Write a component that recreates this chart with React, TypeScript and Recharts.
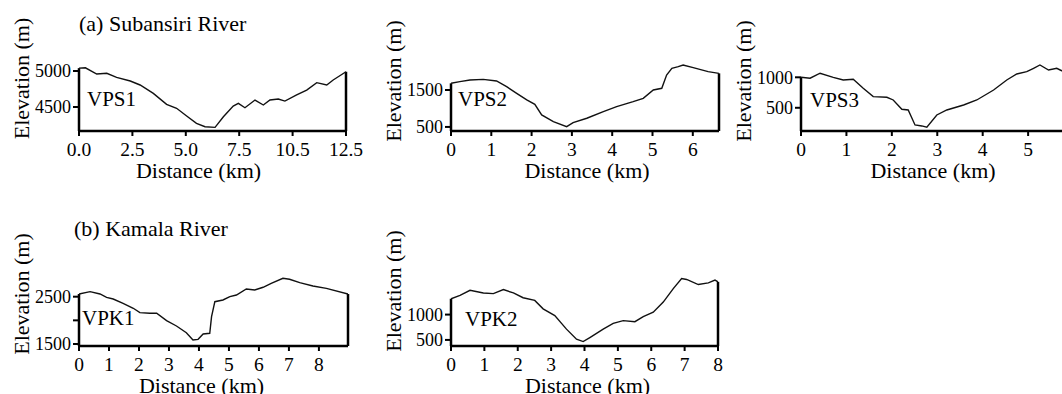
import React from "react";
import { LineChart, Line, XAxis, YAxis, ReferenceLine } from "recharts";

const FONT = "Liberation Serif, Tinos, Times New Roman, DejaVu Serif, serif";

// VPS1 - Subansiri
const vps1Distance = [0, 0.3, 0.83, 1.3, 1.76, 2.4, 2.86, 3.48, 4.1, 4.57, 5.04, 5.5, 5.9, 6.37, 6.76, 7.22, 7.46, 7.77, 8.24, 8.63, 8.94, 9.33, 9.64, 10.19, 10.66, 11.13, 11.6, 11.9, 12.5];
const vps1Elevation = [5040, 5045, 4958, 4968, 4912, 4861, 4806, 4690, 4537, 4482, 4375, 4273, 4226, 4218, 4365, 4514, 4551, 4490, 4597, 4528, 4597, 4611, 4583, 4667, 4736, 4838, 4806, 4875, 4990];

// VPS2
const vps2Distance = [0, 0.22, 0.47, 0.8, 1.13, 1.38, 1.63, 1.88, 2.08, 2.25, 2.54, 2.87, 3.03, 3.37, 3.78, 4.11, 4.52, 4.77, 5.02, 5.23, 5.35, 5.48, 5.64, 5.76, 6.01, 6.38, 6.65];
const vps2Elevation = [1680, 1725, 1770, 1788, 1743, 1590, 1410, 1230, 1113, 824, 643, 508, 616, 735, 914, 1049, 1184, 1275, 1500, 1545, 1905, 2085, 2130, 2176, 2103, 1995, 1950];

// VPS3
const vps3Distance = [0, 0.2, 0.42, 0.71, 0.93, 1.15, 1.37, 1.59, 1.89, 2.03, 2.22, 2.36, 2.51, 2.66, 2.77, 2.99, 3.21, 3.58, 3.87, 4.24, 4.53, 4.75, 4.97, 5.12, 5.26, 5.45, 5.63, 5.74, 5.9];
const vps3Elevation = [1000, 985, 1067, 1000, 956, 967, 820, 683, 672, 628, 475, 464, 218, 202, 180, 382, 464, 546, 628, 792, 956, 1054, 1092, 1148, 1202, 1120, 1148, 1108, 1080];

// VPK1 - Kamala
const vpk1Distance = [0, 0.37, 0.7, 0.92, 1.14, 1.47, 1.81, 2.03, 2.36, 2.59, 2.92, 3.25, 3.58, 3.8, 3.97, 4.14, 4.36, 4.42, 4.53, 4.8, 5.03, 5.25, 5.58, 5.86, 6.14, 6.41, 6.8, 7.02, 7.36, 7.8, 8.25, 8.97];
const vpk1Elevation = [2557, 2606, 2557, 2486, 2451, 2360, 2255, 2162, 2149, 2149, 1993, 1881, 1739, 1585, 1599, 1711, 1726, 2077, 2394, 2430, 2500, 2536, 2663, 2642, 2699, 2783, 2889, 2868, 2796, 2726, 2677, 2557];

// VPK2
const vpk2Distance = [0, 0.27, 0.57, 0.97, 1.27, 1.57, 1.87, 2.16, 2.51, 2.76, 3.11, 3.46, 3.76, 3.96, 4.16, 4.56, 4.86, 5.16, 5.51, 5.76, 6.06, 6.36, 6.66, 6.91, 7.06, 7.41, 7.71, 7.91, 8.0];
const vpk2Elevation = [1313, 1380, 1480, 1427, 1413, 1493, 1427, 1333, 1280, 1113, 980, 713, 513, 467, 547, 713, 827, 880, 860, 960, 1047, 1247, 1513, 1713, 1693, 1593, 1627, 1680, 1647];

// tick values and labels
const vps1XTicks = [0, 2.5, 5, 7.5, 10, 12.5];
const vps1XLabels = ["0.0", "2.5", "5.0", "7.5", "10.5", "12.5"];
const km7Ticks = [0, 1, 2, 3, 4, 5, 6];
const km9Ticks = [0, 1, 2, 3, 4, 5, 6, 7, 8];
const vps1YTicks = [4500, 5000];
const vps2YTicks = [500, 1500];
const vps3YTicks = [500, 1000];
const vpk1YTicks = [1500, 2000, 2500];
const vpk1YLabels = ["1500", "", "2500"];
const vpk2YTicks = [500, 1000];

const titles = ["(a) Subansiri River", "(b) Kamala River"];

type Panel = {
  name: string;
  dist: number[];
  elev: number[];
  xDomain: [number, number];
  yDomain: [number, number];
  xTicks: number[];
  xLabels?: string[];
  yTicks: number[];
  yLabels?: string[];
  left: number;
  top: number;
  width: number;
  height: number;
  mt: number;
  mr: number;
  xh: number;
  xlDx: number;
  xlDy: number;
  ylDy: number;
  nameX: number;
  nameY: number;
};

const panels: Panel[] = [
  { name: "VPS1", dist: vps1Distance, elev: vps1Elevation, xDomain: [0, 12.5], yDomain: [4167, 5153], xTicks: vps1XTicks, xLabels: vps1XLabels, yTicks: vps1YTicks, left: 0, top: 0, width: 370, height: 190, mt: 60, mr: 24, xh: 59, xlDx: -14, xlDy: 9.5, ylDy: -17, nameX: 87, nameY: 106 },
  { name: "VPS2", dist: vps2Distance, elev: vps2Elevation, xDomain: [0, 6.65], yDomain: [390, 2311], xTicks: km7Ticks, yTicks: vps2YTicks, left: 372, top: 0, width: 359, height: 190, mt: 60, mr: 12, xh: 59, xlDx: 2, xlDy: 9.5, ylDy: -14.5, nameX: 86, nameY: 106 },
  { name: "VPS3", dist: vps3Distance, elev: vps3Elevation, xDomain: [0, 5.9], yDomain: [119, 1284], xTicks: km7Ticks.slice(0, 6), yTicks: vps3YTicks, left: 722, top: 0, width: 349, height: 190, mt: 60, mr: 2, xh: 59, xlDx: -2, xlDy: 9.5, ylDy: -14.5, nameX: 88, nameY: 107 },
  { name: "VPK1", dist: vpk1Distance, elev: vpk1Elevation, xDomain: [0, 8.97], yDomain: [1458, 3064], xTicks: km9Ticks, yTicks: vpk1YTicks, yLabels: vpk1YLabels, left: 0, top: 200, width: 358, height: 194, mt: 70, mr: 10, xh: 48, xlDx: -12, xlDy: 15.5, ylDy: -14, nameX: 82, nameY: 125 },
  { name: "VPK2", dist: vpk2Distance, elev: vpk2Elevation, xDomain: [0, 8], yDomain: [380, 1880], xTicks: km9Ticks, yTicks: vpk2YTicks, left: 372, top: 200, width: 358, height: 194, mt: 70, mr: 12, xh: 48, xlDx: 3, xlDy: 15.5, ylDy: -17, nameX: 93, nameY: 126 },
];

function Profile({ p }: { p: Panel }) {
  const rows = p.dist.map((d, i) => ({ d, e: p.elev[i] }));
  const first = p.elev[0];
  const last = p.elev[p.elev.length - 1];
  const xEnd = p.dist[p.dist.length - 1];
  const base = p.yDomain[0];
  return (
    <div style={{ position: "absolute", left: p.left, top: p.top }}>
      <LineChart width={p.width} height={p.height} data={rows} margin={{ top: p.mt, right: p.mr, left: 0, bottom: 0 }} style={{ fontFamily: FONT }}>
        <XAxis
          dataKey="d"
          type="number"
          domain={p.xDomain}
          ticks={p.xTicks}
          interval={0}
          allowDataOverflow
          height={p.xh}
          tickFormatter={(v: number) => (p.xLabels ? p.xLabels[p.xTicks.indexOf(v)] : String(v))}
          axisLine={{ stroke: "#000", strokeWidth: 2.5 }}
          tickLine={{ stroke: "#000", strokeWidth: 2 }}
          tickSize={5}
          tickMargin={6}
          tick={{ fill: "#000", fontSize: 19.5, fontFamily: FONT }}
          label={{ value: "Distance (km)", position: "center", dx: p.xlDx, dy: p.xlDy, fill: "#000", fontSize: 22, fontFamily: FONT }}
        />
        <YAxis
          type="number"
          domain={p.yDomain}
          ticks={p.yTicks}
          interval={0}
          allowDataOverflow
          width={79}
          tickFormatter={(v: number) => (p.yLabels ? p.yLabels[p.yTicks.indexOf(v)] : String(v))}
          axisLine={false}
          tickLine={{ stroke: "#000", strokeWidth: 2 }}
          tickSize={6}
          tickMargin={2}
          tick={{ fill: "#000", fontSize: 18, fontFamily: FONT }}
          label={{ value: "Elevation (m)", angle: -90, position: "center", dx: -18.5, dy: p.ylDy, fill: "#000", fontSize: 22, fontFamily: FONT }}
        />
        <ReferenceLine segment={[{ x: 0, y: base }, { x: 0, y: first }]} stroke="#000" strokeWidth={2.5} />
        <ReferenceLine segment={[{ x: xEnd, y: base }, { x: xEnd, y: last }]} stroke="#000" strokeWidth={2.5} />
        <Line dataKey="e" type="linear" stroke="#111" strokeWidth={1.4} dot={false} isAnimationActive={false} />
        <text x={p.nameX} y={p.nameY} fill="#000" fontSize={21} fontFamily={FONT}>
          {p.name}
        </text>
      </LineChart>
    </div>
  );
}

export default function App() {
  return (
    <div style={{ position: "absolute", left: 0, top: 0, width: 1062, height: 394, overflow: "hidden", background: "#fff", fontFamily: FONT }}>
      <div style={{ position: "absolute", left: 79, top: 11, fontSize: 22, lineHeight: "25px", color: "#000", whiteSpace: "nowrap" }}>{titles[0]}</div>
      <div style={{ position: "absolute", left: 74, top: 216, fontSize: 22, lineHeight: "25px", color: "#000", whiteSpace: "nowrap" }}>{titles[1]}</div>
      {panels.map((p) => (
        <Profile key={p.name} p={p} />
      ))}
    </div>
  );
}
